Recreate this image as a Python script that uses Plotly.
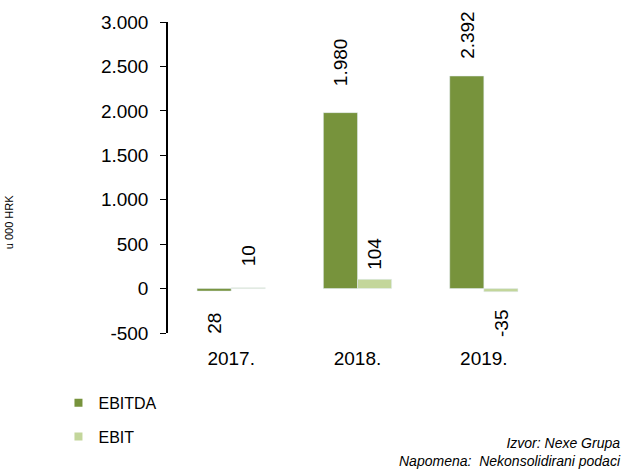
import plotly.graph_objects as go

# Data
years  = ['2017.', '2018.', '2019.']
ebitda = [-28, 1980, 2392]
ebit   = [10, 104, -35]
ebitda_labels = ['28', '1.980', '2.392']
ebit_labels   = ['10', '104', '-35']

tick_vals = [-500, 0, 500, 1000, 1500, 2000, 2500, 3000]
tick_text = ['-500', '0', '500', '1.000', '1.500', '2.000', '2.500', '3.000']

C_EBITDA = '#77933C'
C_EBIT = '#C3D69B'
FONT = 'Liberation Sans, Arial, sans-serif'

fig = go.Figure()

fig.add_trace(go.Bar(x=years, y=ebitda, name='EBITDA', marker=dict(color=C_EBITDA), showlegend=False))
fig.add_trace(go.Bar(x=years, y=ebit, name='EBIT', marker=dict(color=C_EBIT), showlegend=False))

# legend entries with small square markers
fig.add_trace(go.Scatter(x=[None], y=[None], mode='markers', name='EBITDA', legendgroup='a',
                         marker=dict(symbol='square', size=8, color=C_EBITDA)))
fig.add_trace(go.Scatter(x=[None], y=[None], mode='markers', name='EBIT', legendgroup='b',
                         marker=dict(symbol='square', size=8, color=C_EBIT)))

# value labels (rotated), shifts tuned to mimic the original placement
shifts_ebitda = [-20, 24, 15]
shifts_ebit = [19, 7, -16]
for i in range(len(years)):
    for val, lab, sh, dx in [(ebitda[i], ebitda_labels[i], shifts_ebitda[i], -17),
                             (ebit[i], ebit_labels[i], shifts_ebit[i], 17)]:
        fig.add_annotation(x=i, y=val, xref='x', yref='y', text=lab, showarrow=False, textangle=-90,
                           xshift=dx, yshift=sh, yanchor='bottom' if sh > 0 else 'top',
                           font=dict(size=19, color='black', family=FONT))

fig.update_layout(
    width=627, height=475,
    barmode='group', bargap=0.46, bargroupgap=0,
    plot_bgcolor='white', paper_bgcolor='white',
    font=dict(family=FONT, size=19, color='black'),
    margin=dict(l=168, r=80, t=22, b=142),
    showlegend=True,
    legend=dict(x=-0.289, y=-0.17, xanchor='left', yanchor='top', orientation='v',
                traceorder='grouped', tracegroupgap=10, font=dict(size=16, family=FONT)),
    xaxis=dict(type='category', showline=False, ticks='', ticklabelstandoff=12,
               tickfont=dict(size=19), range=[-0.5, 2.5]),
    xaxis2=dict(overlaying='x', anchor='free', position=1/7, range=[-0.5, 2.5],
                showline=True, linecolor='black', linewidth=1.5, ticks='outside',
                tickvals=[-0.5, 0.5, 1.5, 2.5], ticklen=6, tickcolor='black',
                showticklabels=False, showgrid=False, zeroline=False),
    yaxis=dict(range=[-500, 3000], tickvals=tick_vals, ticktext=tick_text,
               showline=True, linecolor='black', linewidth=1.5, ticks='outside',
               ticklen=6, tickcolor='black', showgrid=False, zeroline=False,
               ticklabelstandoff=8, tickfont=dict(size=19)),
)

fig.add_annotation(xref='paper', yref='paper', x=-0.44, y=0.357, text='u 000 HRK',
                   showarrow=False, textangle=-90, font=dict(size=11, family=FONT))
fig.add_annotation(xref='paper', yref='paper', x=1.2, y=-0.322, xanchor='right', yanchor='top',
                   align='right', showarrow=False,
                   text='<i>Izvor: Nexe Grupa</i><br><i>Napomena:  Nekonsolidirani podaci</i>',
                   font=dict(size=14, family=FONT))

fig.write_html('out.html', config={'displayModeBar': False},
               post_script="document.body.style.margin='0';")
